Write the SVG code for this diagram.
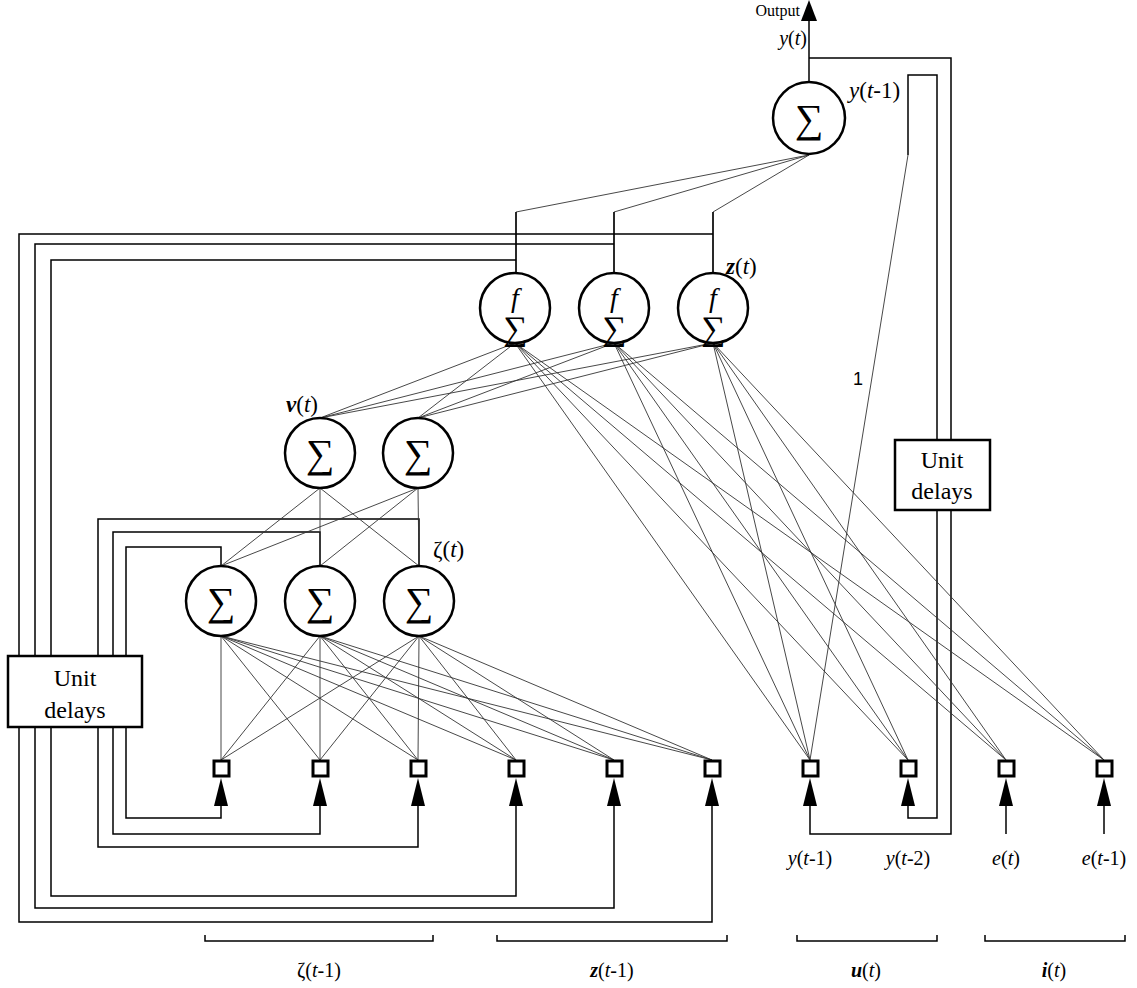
<svg xmlns="http://www.w3.org/2000/svg" width="1137" height="988" viewBox="0 0 1137 988">
<style>
text{font-family:"Liberation Serif","DejaVu Serif","Times New Roman",serif;fill:#000}
.it{font-style:italic}
.bi{font-style:italic;font-weight:bold}
.sig{font-size:40px;text-anchor:middle}
.sigf{font-size:34px;text-anchor:middle}
.node{fill:#fff;stroke:#000;stroke-width:2.5}
.w{stroke:#333;stroke-width:0.9;fill:none}
.lp{stroke:#000;stroke-width:1.5;fill:none}
.sq{fill:#fff;stroke:#000;stroke-width:3}
.box{fill:#fff;stroke:#000;stroke-width:2.5}
.mid{text-anchor:middle}
.lb{font-size:20px}
.lt{font-size:23px}
.bx{font-size:24px;text-anchor:middle}
</style>
<defs>
<path id="arr" d="M0,0 L-7,28 L7,28 Z" fill="#000"/>
</defs>
<rect width="1137" height="988" fill="#fff"/>
<g id="connectors">
<line class="lp" x1="809" y1="82" x2="809" y2="18"/>
<path d="M809,0 L801,21 L817,21 Z" fill="#000"/>
<polyline class="lp" points="809,58 951,58 951,834 810,834 810,806"/>
<polyline class="lp" points="908,155 908,75 937,75 937,818 908,818 908,806"/>
<line class="w" x1="908" y1="155" x2="810" y2="760"/>
<polyline class="w" points="809,155 516,212 516,273"/>
<polyline class="w" points="809,155 614,212 614,273"/>
<polyline class="w" points="809,155 713,212 713,273"/>
<polyline class="lp" points="713,234 19,234 19,922 712,922 712,806"/>
<polyline class="lp" points="614,244 35,244 35,908 614,908 614,806"/>
<polyline class="lp" points="516,260 51,260 51,896 516,896 516,806"/>
<line class="lp" x1="713" y1="212" x2="713" y2="273"/>
<line class="lp" x1="614" y1="212" x2="614" y2="273"/>
<line class="lp" x1="516" y1="212" x2="516" y2="273"/>
<polyline class="lp" points="419,566 419,519 98,519 98,847 418,847 418,806"/>
<polyline class="lp" points="320,566 320,532 113,532 113,834 320,834 320,806"/>
<polyline class="lp" points="221,566 221,547 126,547 126,818 221,818 221,806"/>
<g class="w">
<line x1="515" y1="343" x2="320" y2="418"/><line x1="515" y1="343" x2="418" y2="418"/>
<line x1="614" y1="343" x2="320" y2="418"/><line x1="614" y1="343" x2="418" y2="418"/>
<line x1="713" y1="343" x2="320" y2="418"/><line x1="713" y1="343" x2="418" y2="418"/>
<line x1="320" y1="488" x2="221" y2="566"/><line x1="320" y1="488" x2="320" y2="566"/><line x1="320" y1="488" x2="419" y2="566"/>
<line x1="418" y1="488" x2="221" y2="566"/><line x1="418" y1="488" x2="320" y2="566"/><line x1="418" y1="488" x2="419" y2="566"/>
<line x1="221" y1="636" x2="221" y2="760"/><line x1="221" y1="636" x2="320" y2="760"/><line x1="221" y1="636" x2="418" y2="760"/>
<line x1="221" y1="636" x2="516" y2="760"/><line x1="221" y1="636" x2="614" y2="760"/><line x1="221" y1="636" x2="712" y2="760"/>
<line x1="320" y1="636" x2="221" y2="760"/><line x1="320" y1="636" x2="320" y2="760"/><line x1="320" y1="636" x2="418" y2="760"/>
<line x1="320" y1="636" x2="516" y2="760"/><line x1="320" y1="636" x2="614" y2="760"/><line x1="320" y1="636" x2="712" y2="760"/>
<line x1="419" y1="636" x2="221" y2="760"/><line x1="419" y1="636" x2="320" y2="760"/><line x1="419" y1="636" x2="418" y2="760"/>
<line x1="419" y1="636" x2="516" y2="760"/><line x1="419" y1="636" x2="614" y2="760"/><line x1="419" y1="636" x2="712" y2="760"/>
<line x1="515" y1="343" x2="810" y2="760"/><line x1="515" y1="343" x2="908" y2="760"/><line x1="515" y1="343" x2="1006" y2="760"/><line x1="515" y1="343" x2="1104" y2="760"/>
<line x1="614" y1="343" x2="810" y2="760"/><line x1="614" y1="343" x2="908" y2="760"/><line x1="614" y1="343" x2="1006" y2="760"/><line x1="614" y1="343" x2="1104" y2="760"/>
<line x1="713" y1="343" x2="810" y2="760"/><line x1="713" y1="343" x2="908" y2="760"/><line x1="713" y1="343" x2="1006" y2="760"/><line x1="713" y1="343" x2="1104" y2="760"/>
</g>
<line class="lp" x1="1006" y1="806" x2="1006" y2="834"/>
<line class="lp" x1="1104" y1="806" x2="1104" y2="834"/>
<use href="#arr" x="221" y="778"/><use href="#arr" x="320" y="778"/><use href="#arr" x="418" y="778"/>
<use href="#arr" x="516" y="778"/><use href="#arr" x="614" y="778"/><use href="#arr" x="712" y="778"/>
<use href="#arr" x="810" y="778"/><use href="#arr" x="908" y="778"/><use href="#arr" x="1006" y="778"/>
<use href="#arr" x="1104" y="778"/>
<polyline class="lp" points="205,935 205,941 433,941 433,935"/>
<polyline class="lp" points="497,935 497,941 727,941 727,935"/>
<polyline class="lp" points="797,935 797,941 937,941 937,935"/>
<polyline class="lp" points="985,935 985,941 1125,941 1125,935"/>
</g>
<g id="out-sum"><circle class="node" cx="809" cy="118" r="36"/><text class="sig" x="809" y="132">∑</text></g>
<g id="f1"><circle class="node" cx="515" cy="308" r="35"/><text class="it mid" x="515" y="307" style="font-size:28px">f</text><text class="sigf" x="515" y="340">∑</text></g>
<g id="f2"><circle class="node" cx="614" cy="308" r="35"/><text class="it mid" x="614" y="307" style="font-size:28px">f</text><text class="sigf" x="614" y="340">∑</text></g>
<g id="f3"><circle class="node" cx="713" cy="308" r="35"/><text class="it mid" x="713" y="307" style="font-size:28px">f</text><text class="sigf" x="713" y="340">∑</text></g>
<g id="v1"><circle class="node" cx="320" cy="453" r="35"/><text class="sig" x="320" y="467">∑</text></g>
<g id="v2"><circle class="node" cx="418" cy="453" r="35"/><text class="sig" x="418" y="467">∑</text></g>
<g id="z1"><circle class="node" cx="221" cy="601" r="35"/><text class="sig" x="221" y="615">∑</text></g>
<g id="z2"><circle class="node" cx="320" cy="601" r="35"/><text class="sig" x="320" y="615">∑</text></g>
<g id="z3"><circle class="node" cx="419" cy="601" r="35"/><text class="sig" x="419" y="615">∑</text></g>
<g id="squares">
<rect class="sq" x="214" y="761" width="15" height="15"/><rect class="sq" x="313" y="761" width="15" height="15"/>
<rect class="sq" x="411" y="761" width="15" height="15"/><rect class="sq" x="509" y="761" width="15" height="15"/>
<rect class="sq" x="607" y="761" width="15" height="15"/><rect class="sq" x="705" y="761" width="15" height="15"/>
<rect class="sq" x="803" y="761" width="15" height="15"/><rect class="sq" x="901" y="761" width="15" height="15"/>
<rect class="sq" x="999" y="761" width="15" height="15"/><rect class="sq" x="1097" y="761" width="15" height="15"/>
</g>
<g id="delay-left"><rect class="box" x="8" y="656" width="134" height="71"/>
<text class="bx" x="75" y="686">Unit</text><text class="bx" x="75" y="718">delays</text></g>
<g id="delay-right"><rect class="box" x="895" y="440" width="95" height="70"/>
<text class="bx" x="942" y="468">Unit</text><text class="bx" x="942" y="499">delays</text></g>
<g id="labels">
<text x="800" y="16" style="font-size:16px" text-anchor="end">Output</text>
<text class="lb" x="807" y="45" text-anchor="end"><tspan class="it">y</tspan>(<tspan class="it">t</tspan>)</text>
<text class="lt" x="849" y="98"><tspan class="it">y</tspan>(<tspan class="it">t</tspan>-1)</text>
<text x="858" y="385" style="font-family:'Liberation Sans',Arial,sans-serif;font-size:18px" text-anchor="middle">1</text>
<text class="lt" x="726" y="274"><tspan class="bi">z</tspan>(<tspan class="it">t</tspan>)</text>
<text class="lt" x="286" y="412"><tspan class="bi">v</tspan>(<tspan class="it">t</tspan>)</text>
<text class="lt" x="433" y="557">ζ(<tspan class="it">t</tspan>)</text>
<text class="lb mid" x="810" y="865"><tspan class="it">y</tspan>(<tspan class="it">t</tspan>-1)</text>
<text class="lb mid" x="908" y="865"><tspan class="it">y</tspan>(<tspan class="it">t</tspan>-2)</text>
<text class="lb mid" x="1006" y="865"><tspan class="it">e</tspan>(<tspan class="it">t</tspan>)</text>
<text class="lb mid" x="1104" y="865"><tspan class="it">e</tspan>(<tspan class="it">t</tspan>-1)</text>
<text class="lb mid" x="319" y="977">ζ(<tspan class="it">t</tspan>-1)</text>
<text class="lb mid" x="612" y="977"><tspan class="bi">z</tspan>(<tspan class="it">t</tspan>-1)</text>
<text class="lb mid" x="866" y="977"><tspan class="bi">u</tspan>(<tspan class="it">t</tspan>)</text>
<text class="lb mid" x="1054" y="977"><tspan class="bi">i</tspan>(<tspan class="it">t</tspan>)</text>
</g>
</svg>
